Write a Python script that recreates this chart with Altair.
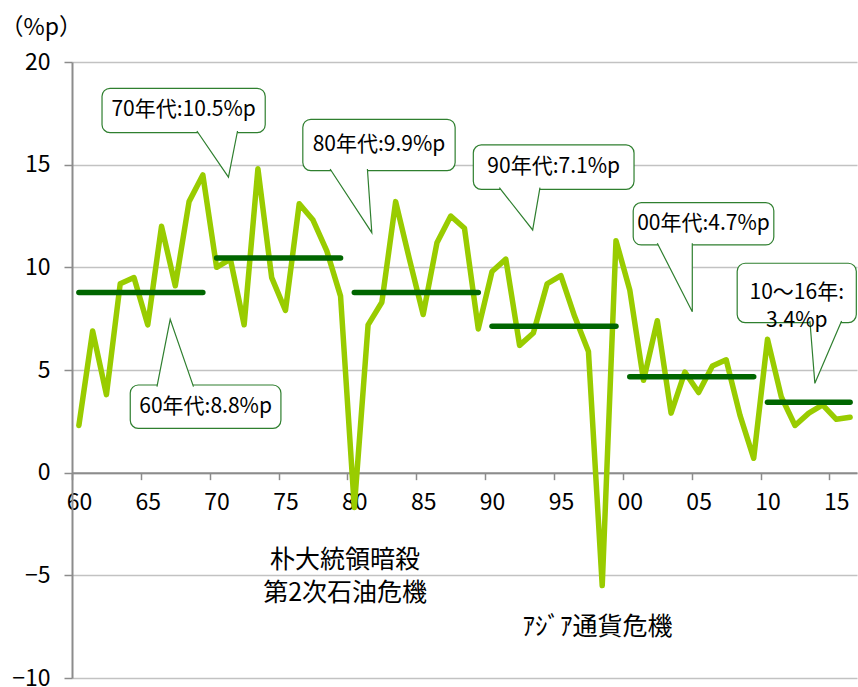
import altair as alt
import pandas as pd

FONT = "Noto Sans CJK JP"

# Real GDP growth, 1960-2016 (%p)
years = list(range(1960, 2017))
growth = [
    2.3, 6.9, 3.8, 9.2, 9.5, 7.2, 12.0, 9.1, 13.2, 14.5,
    10.0, 10.4, 7.2, 14.8, 9.5, 7.9, 13.1, 12.3, 10.8, 8.6,
    -1.7, 7.2, 8.3, 13.2, 10.4, 7.7, 11.2, 12.5, 11.9, 7.0,
    9.8, 10.4, 6.2, 6.8, 9.2, 9.6, 7.6, 5.9, -5.5, 11.3,
    8.9, 4.5, 7.4, 2.9, 4.9, 3.9, 5.2, 5.5, 2.8, 0.7,
    6.5, 3.7, 2.3, 2.9, 3.3, 2.6, 2.7,
]

# Callout texts for the period averages
callout_text = ["60年代:8.8%p", "70年代:10.5%p", "80年代:9.9%p",
                "90年代:7.1%p", "00年代:4.7%p", "10～16年:\n3.4%p"]

# Callout geometry in axis units (x: years since 1960, y: %p)
box_x1 = [4.23, 2.18, 16.76, 29.14, 40.75, 48.30]
box_x2 = [15.17, 14.03, 27.82, 40.81, 50.96, 56.95]
box_top = [4.27, 18.72, 17.21, 15.96, 13.15, 10.20]
box_bot = [2.16, 16.56, 14.71, 13.80, 11.09, 7.31]
ptr_x1 = [6.17, 9.07, 18.74, 31.03, 42.50, 53.58]
ptr_x2 = [8.82, 12.02, 21.45, 33.98, 45.04, 55.88]
tip_x = [7.13, 11.36, 21.77, 33.45, 45.04, 53.94]
tip_y = [7.47, 14.39, 11.69, 11.82, 7.84, 4.35]

# Event notes below the axis
events = ["朴大統領暗殺", "第2次石油危機", "ｱｼﾞｱ通貨危機"]
event_x = [19.83, 19.83, 38.16]
event_y = [-4.25, -5.87, -7.50]

LINE_GREEN = "#99CC00"
AVG_GREEN = "#006600"
BOX_GREEN = "#2f7f2f"
AXIS_GREY = "#8c8c8c"
GRID_GREY = "#c2c2c2"

df = pd.DataFrame({"year": years, "growth": growth})
df["t"] = df["year"] - 1960 + 0.5
df["period"] = [min((y // 10) * 10, 2010) for y in years]

boxes = pd.DataFrame({
    "x1": box_x1, "x2": box_x2, "top": box_top, "bot": box_bot,
    "tx": [(a + b) / 2 for a, b in zip(box_x1, box_x2)],
    "ty": [(a + b) / 2 for a, b in zip(box_top, box_bot)],
    "label": callout_text,
})

# Pointer triangles: base sits slightly inside the box so the box edge is hidden there
eps = 0.08
rows = []
for i in range(len(tip_x)):
    below = tip_y[i] < box_bot[i]
    base_y = box_bot[i] + eps if below else box_top[i] - eps
    rows += [
        {"id": i, "k": 0, "x": ptr_x1[i], "y": base_y},
        {"id": i, "k": 1, "x": tip_x[i], "y": tip_y[i]},
        {"id": i, "k": 2, "x": ptr_x2[i], "y": base_y},
    ]
pointers = pd.DataFrame(rows)

ev = pd.DataFrame({"x": event_x, "y": event_y, "label": events})

xscale = alt.Scale(domain=[0, 57], nice=False, zero=False)
yscale = alt.Scale(domain=[-10, 20], nice=False, zero=False)

x_axis = alt.Axis(
    values=list(range(0, 56, 5)),
    labelExpr="slice('' + (1960 + datum.value), 2)",
    offset=-205.33,
    domainColor=AXIS_GREY, domainWidth=2,
    tickColor=AXIS_GREY, tickWidth=1.5, tickSize=7,
    labelOffset=6.9, labelPadding=23, labelBaseline="middle",
    labelFont=FONT, labelFontSize=23, labelColor="black",
    labelFlush=False, labelOverlap=False,
    grid=False,
)
y_axis = alt.Axis(
    values=list(range(-10, 21, 5)),
    domainColor=AXIS_GREY, domainWidth=2,
    tickColor=AXIS_GREY, tickWidth=1.5, tickSize=8,
    gridColor=GRID_GREY, gridWidth=1.5,
    labelFont=FONT, labelFontSize=23, labelColor="black", labelPadding=14,
    titleAngle=0, titleX=-72, titleY=-35,
    titleAlign="left", titleBaseline="middle",
    titleFont=FONT, titleFontSize=23, titleFontWeight="normal", titleColor="black",
)


def X(field):
    return alt.X(field, scale=xscale, axis=x_axis, title=None)


def Y(field):
    return alt.Y(field, scale=yscale, axis=y_axis, title="（%p）")


series = alt.Chart(df).mark_line(
    color=LINE_GREEN, strokeWidth=5.5, strokeJoin="round", strokeCap="round"
).encode(x=X("t:Q"), y=Y("growth:Q"))

averages = alt.Chart(df).transform_aggregate(
    avg="mean(growth)", t0="min(t)", t1="max(t)", groupby=["period"]
).mark_rule(color=AVG_GREEN, strokeWidth=5.5, strokeCap="round").encode(
    x=X("t0:Q"), x2="t1:Q", y=Y("avg:Q"),
)

box_layer = alt.Chart(boxes).mark_rect(
    fill="white", stroke=BOX_GREEN, strokeWidth=1.2, cornerRadius=8
).encode(x=X("x1:Q"), x2="x2:Q", y=Y("top:Q"), y2="bot:Q")

pointer_layer = alt.Chart(pointers).mark_line(
    fill="white", stroke=BOX_GREEN, strokeWidth=1.2, strokeJoin="miter"
).encode(x=X("x:Q"), y=Y("y:Q"), order="k:Q", detail="id:N")

callout_labels = alt.Chart(boxes).mark_text(
    font=FONT, fontSize=21, color="black", lineBreak="\n", lineHeight=28,
    align="center", baseline="middle",
).encode(x=X("tx:Q"), y=Y("ty:Q"), text="label:N")

event_labels = alt.Chart(ev).mark_text(
    font=FONT, fontSize=25, color="black", align="center", baseline="middle",
).encode(x=X("x:Q"), y=Y("y:Q"), text="label:N")

chart = alt.layer(
    series, averages, box_layer, pointer_layer, callout_labels, event_labels
).properties(
    width=785, height=616,
    padding={"left": 72, "top": 62, "right": 1, "bottom": 9},
    autosize=alt.AutoSizeParams(type="none"),
    background="white",
).configure_view(stroke=None)

chart.save("out.html", embed_options={"renderer": "svg", "actions": False})
